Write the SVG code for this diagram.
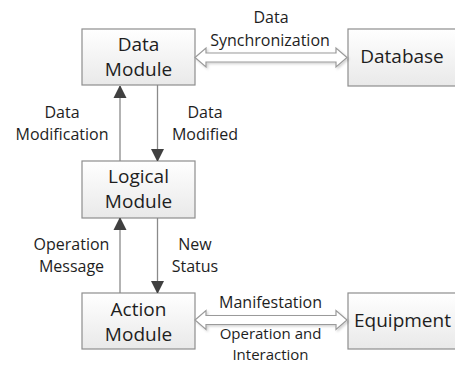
<svg xmlns="http://www.w3.org/2000/svg" width="455" height="365" viewBox="0 0 455 365">
  <defs>
    <linearGradient id="boxFill" x1="0" y1="0" x2="0" y2="1">
      <stop offset="0" stop-color="#ffffff"/>
      <stop offset="1" stop-color="#e9e9e9"/>
    </linearGradient>
    <filter id="soft" x="-10%" y="-40%" width="120%" height="180%">
      <feDropShadow dx="1.5" dy="1.5" stdDeviation="1.2" flood-color="#000" flood-opacity="0.18"/>
    </filter>
    <marker id="head" viewBox="0 0 12 14" refX="12" refY="7" markerWidth="12" markerHeight="14" markerUnits="userSpaceOnUse" orient="auto">
      <path d="M0,0.5 L13,7 L0,13.5 Z" fill="#404040"/>
    </marker>
  </defs>
  <style>
    .box { fill: url(#boxFill); stroke: #8e8e8e; stroke-width: 1.2; }
    .node { font-family: "Open Sans", "Liberation Sans", sans-serif; font-size: 19px; fill: #1e1e1e; text-anchor: middle; }
    .lbl { font-family: "Open Sans", "Liberation Sans", sans-serif; font-size: 16px; fill: #1e1e1e; text-anchor: middle; }
    .lbl.tight { font-size: 15px; }
    .flow { stroke: #8a8a8a; stroke-width: 1.3; fill: none; marker-end: url(#head); }
    .dbl { fill: #ffffff; stroke: #9a9a9a; stroke-width: 1.2; filter: url(#soft); }
  </style>

  <rect width="455" height="365" fill="#ffffff"/>

  <!-- nodes -->
  <g id="data-module">
    <rect class="box" x="82" y="29" width="113" height="56"/>
    <text class="node" x="138.5" y="51">Data</text>
    <text class="node" x="138.5" y="76">Module</text>
  </g>
  <g id="database">
    <rect class="box" x="348" y="29" width="112" height="57"/>
    <text class="node" x="402" y="63">Database</text>
  </g>
  <g id="logical-module">
    <rect class="box" x="82" y="161" width="113" height="57"/>
    <text class="node" x="138.5" y="183">Logical</text>
    <text class="node" x="138.5" y="208">Module</text>
  </g>
  <g id="action-module">
    <rect class="box" x="82" y="293" width="113" height="56"/>
    <text class="node" x="138.5" y="316">Action</text>
    <text class="node" x="138.5" y="341">Module</text>
  </g>
  <g id="equipment">
    <rect class="box" x="348" y="293" width="112" height="56"/>
    <text class="node" x="402.5" y="327">Equipment</text>
  </g>

  <!-- connectors -->
  <g id="connectors">
    <line class="flow" x1="120" y1="161" x2="120" y2="86"/>
    <line class="flow" x1="157.5" y1="85" x2="157.5" y2="161"/>
    <line class="flow" x1="120" y1="293" x2="120" y2="218"/>
    <line class="flow" x1="157.5" y1="218" x2="157.5" y2="293"/>
    <polygon class="dbl" points="195,57.5 206,48 206,53 336,53 336,48 347,57.5 336,67 336,62 206,62 206,67"/>
    <polygon class="dbl" points="195,320 206,310.5 206,315.5 336,315.5 336,310.5 347,320 336,329.5 336,324.5 206,324.5 206,329.5"/>
  </g>

  <!-- connector labels -->
  <g id="labels">
    <text class="lbl" x="271" y="23">Data</text>
    <text class="lbl" x="270" y="46">Synchronization</text>
    <text class="lbl" x="62" y="118">Data</text>
    <text class="lbl" x="62" y="140">Modification</text>
    <text class="lbl" x="205" y="118">Data</text>
    <text class="lbl" x="205" y="140">Modified</text>
    <text class="lbl" x="71.5" y="250">Operation</text>
    <text class="lbl" x="71.5" y="272">Message</text>
    <text class="lbl" x="195" y="250">New</text>
    <text class="lbl" x="195" y="272">Status</text>
    <text class="lbl" x="270.5" y="308">Manifestation</text>
    <text class="lbl tight" x="270.5" y="338.5">Operation and</text>
    <text class="lbl tight" x="270.5" y="359.5">Interaction</text>
  </g>
</svg>
